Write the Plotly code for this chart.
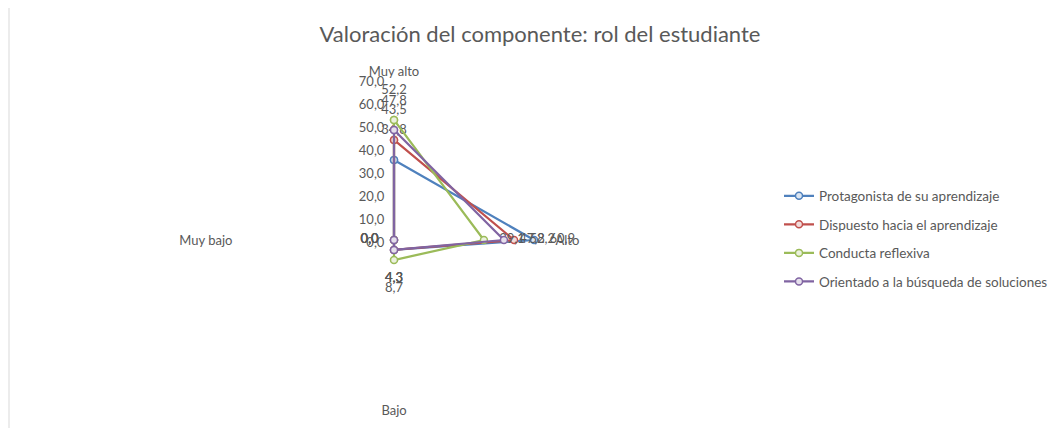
import plotly.graph_objects as go

categories = ["Muy alto", "Alto", "Bajo", "Muy bajo"]
series_names = [
    "Protagonista de su aprendizaje",
    "Dispuesto hacia el aprendizaje",
    "Conducta reflexiva",
    "Orientado a la búsqueda de soluciones",
]
protagonista = [34.8, 60.9, 4.3, 0.0]
dispuesto = [43.5, 52.2, 4.3, 0.0]
conducta = [52.2, 39.1, 8.7, 0.0]
orientado = [47.8, 47.8, 4.3, 0.0]
radial_ticks = [0, 10, 20, 30, 40, 50, 60, 70]

values = [protagonista, dispuesto, conducta, orientado]
colors = ["#4F81BD", "#C0504D", "#9BBB59", "#8064A2"]
fills = ["#DCE6F2", "#F2DCDB", "#EBF1DE", "#E6E0EC"]

GRAY = "#595959"
FONT = "Lato"
NB = "\u00a0"

def fmt(v):
    return f"{v:.1f}".replace(".", ",")

def label(v, pos):
    s = fmt(v)
    if pos == "top center":
        return s + "<br>" + NB
    if pos == "bottom center":
        return NB + "<br>" + s
    if pos == "middle right":
        return NB * 3 + s
    return s + NB * 3

positions = ["top center", "middle right", "bottom center", "middle left"]

fig = go.Figure()
for name, vals, col, fc in zip(series_names, values, colors, fills):
    texts = [label(v, p) for v, p in zip(vals, positions)] + [""]
    fig.add_trace(go.Scatterpolar(
        r=vals + [vals[0]],
        theta=categories + [categories[0]],
        name=name,
        mode="lines+markers+text",
        line=dict(color=col, width=2.25),
        marker=dict(symbol="circle", size=7, color=fc, line=dict(color=col, width=1.5)),
        text=texts,
        textposition=positions + ["top center"],
        textfont=dict(family=FONT, size=13, color=GRAY),
        cliponaxis=False,
        legendgroup=name,
    ))

W, H = 1057, 428
OFF = 8  # page body margin
cx, cy, R = 394 - OFF, 240 - OFF, 161
fig.update_layout(
    width=W, height=H,
    margin=dict(l=0, r=0, t=0, b=0),
    paper_bgcolor="white",
    plot_bgcolor="white",
    separators=",.",
    font=dict(family=FONT, size=13, color=GRAY),
    title=dict(text="Valoración del componente: rol del estudiante",
               x=(540 - OFF) / W, xanchor="center", y=1 - (34 - OFF) / H, yanchor="middle",
               font=dict(family=FONT, size=22, color=GRAY)),
    polar=dict(
        domain=dict(x=[(cx - R) / W, (cx + R) / W], y=[1 - (cy + R) / H, 1 - (cy - R) / H]),
        bgcolor="white",
        radialaxis=dict(range=[0, 70], tickvals=radial_ticks, tickformat=".1f",
                        angle=90, showgrid=False, showline=False, ticks="",
                        tickfont=dict(family=FONT, size=13, color=GRAY), side="counterclockwise"),
        angularaxis=dict(rotation=90, direction="clockwise", showgrid=False, showline=False,
                         ticks="", tickfont=dict(family=FONT, size=13, color=GRAY)),
    ),
    legend=dict(x=(779 - OFF) / W, xanchor="left", y=1 - (239 - OFF) / H, yanchor="middle",
                font=dict(family=FONT, size=13.5, color=GRAY), tracegroupgap=8,
                bgcolor="rgba(0,0,0,0)"),
    shapes=[dict(type="line", xref="paper", yref="paper", x0=(9 - OFF) / W, x1=(9 - OFF) / W,
                 y0=0, y1=1, line=dict(color="#D9D9D9", width=1))],
)

fig.write_html("out.html")
